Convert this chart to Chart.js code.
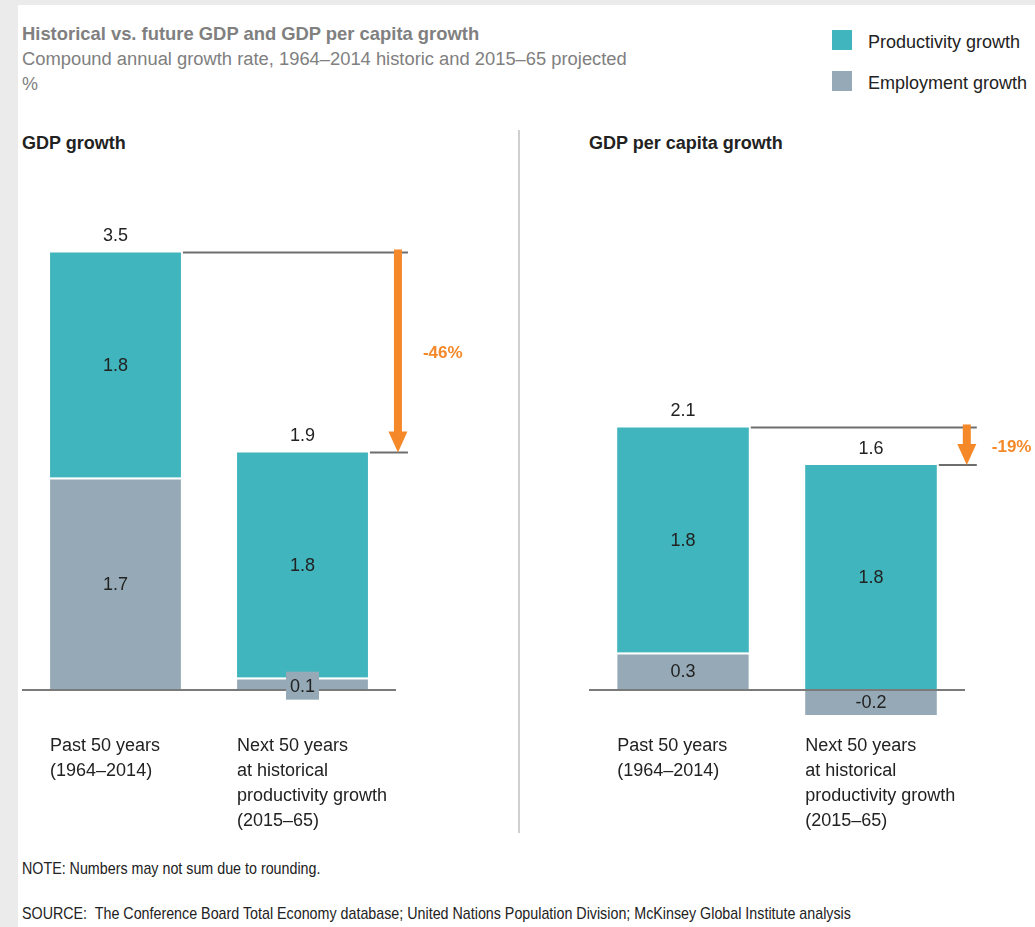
<!DOCTYPE html>
<html>
<head>
<meta charset="utf-8">
<script src="https://cdn.jsdelivr.net/npm/chart.js@4/dist/chart.umd.min.js"></script>
<style>
  body { margin: 0; background: #ebebeb; font-family: "Liberation Sans", Arial, sans-serif; }
  #page { position: absolute; left: 18px; top: 5px; width: 1017px; height: 922px; background: #fff; }
  .t { position: absolute; white-space: nowrap; font-size: 18px; line-height: 25px; color: #222; }
  .sw { position: absolute; width: 20px; height: 20px; }
  .narrow { transform: scaleX(0.84); transform-origin: left center; font-size: 17px; }
  canvas { position: absolute; }
</style>
</head>
<body>
<div id="page"></div>
<div class="t" style="left:22px;top:21px;font-weight:bold;color:#808080;font-size:18.4px">Historical vs. future GDP and GDP per capita growth</div>
<div class="t" style="left:22px;top:46px;color:#808080;font-size:18.35px">Compound annual growth rate, 1964–2014 historic and 2015–65 projected</div>
<div class="t" style="left:22px;top:72px;color:#808080">%</div>

<div class="sw" style="left:832px;top:30px;background:#40b5bd"></div>
<div class="t" style="left:868px;top:30px">Productivity growth</div>
<div class="sw" style="left:832px;top:71px;background:#95aab6"></div>
<div class="t" style="left:868px;top:71px">Employment growth</div>

<div class="t" style="left:22px;top:131px;font-weight:bold">GDP growth</div>
<div class="t" style="left:589px;top:131px;font-weight:bold">GDP per capita growth</div>

<div style="position:absolute;left:518px;top:130px;width:2px;height:703px;background:#d0d0d0"></div>

<canvas id="gdpChart" width="500" height="650" style="left:18px;top:200px"></canvas>
<canvas id="perCapitaChart" width="515" height="650" style="left:520px;top:200px"></canvas>

<div class="t narrow" style="left:22px;top:856px">NOTE: Numbers may not sum due to rounding.</div>
<div class="t narrow" style="left:22px;top:901px">SOURCE:&nbsp; The Conference Board Total Economy database; United Nations Population Division; McKinsey Global Institute analysis</div>

<script>
// Chart data
const categories = [
    ["Past 50 years", "(1964–2014)"],
    ["Next 50 years", "at historical", "productivity growth", "(2015–65)"]
];
const gdpEmployment = [1.7, 0.1];
const gdpProductivity = [1.8, 1.8];
const gdpTotals = [3.5, 1.9];
const perCapitaEmployment = [0.3, -0.2];
const perCapitaProductivity = [1.8, 1.8];
const perCapitaTotals = [2.1, 1.6];
const changeLabels = ["-46%", "-19%"];

const TEAL = "#40b5bd";
const GREY = "#95aab6";
const ORANGE = "#f5892a";

// Draws baseline, value labels, totals, change arrow and category labels
const annotate = {
    id: "annotate",
    afterDatasetsDraw(chart, args, opts) {
        const ctx = chart.ctx;
        const area = chart.chartArea;
        const zero = chart.scales.y.getPixelForValue(0);
        ctx.save();

        // baseline
        ctx.strokeStyle = "#7a7a7a";
        ctx.lineWidth = 2;
        ctx.beginPath();
        ctx.moveTo(area.left, zero);
        ctx.lineTo(area.right, zero);
        ctx.stroke();

        // segment labels
        ctx.font = "18px 'Liberation Sans', Arial, sans-serif";
        ctx.textAlign = "center";
        ctx.textBaseline = "middle";
        chart.data.datasets.forEach((ds, di) => {
            const meta = chart.getDatasetMeta(di);
            meta.data.forEach((bar, i) => {
                const txt = ds.data[i].toFixed(1);
                let cy = (bar.y + bar.base) / 2;
                if (Math.abs(bar.base - bar.y) < 20) {
                    cy += 2;
                    const w = ctx.measureText(txt).width + 8;
                    ctx.fillStyle = GREY;
                    ctx.fillRect(bar.x - w / 2, cy - 14, w, 28);
                }
                ctx.fillStyle = "#222";
                ctx.fillText(txt, bar.x, cy + 1);
            });
        });

        // totals above bars
        const top = chart.getDatasetMeta(1).data;
        opts.totals.forEach((t, i) => {
            ctx.fillStyle = "#222";
            ctx.fillText(t.toFixed(1), top[i].x, top[i].y - 16);
        });

        // connector lines and arrow
        const a = top[0], b = top[1];
        const arrowX = b.x + b.width / 2 + 30;
        ctx.strokeStyle = "#6e6e6e";
        ctx.lineWidth = 2;
        ctx.beginPath();
        ctx.moveTo(a.x + a.width / 2 + 2, a.y);
        ctx.lineTo(arrowX + 10, a.y);
        ctx.moveTo(b.x + b.width / 2 + 2, b.y);
        ctx.lineTo(arrowX + 10, b.y);
        ctx.stroke();

        const headLen = 21;
        ctx.fillStyle = ORANGE;
        ctx.fillRect(arrowX - 4, a.y - 3, 8, b.y - headLen - a.y + 4);
        ctx.beginPath();
        ctx.moveTo(arrowX - 9.5, b.y - headLen);
        ctx.lineTo(arrowX + 9.5, b.y - headLen);
        ctx.lineTo(arrowX, b.y);
        ctx.closePath();
        ctx.fill();

        ctx.font = "bold 17px 'Liberation Sans', Arial, sans-serif";
        ctx.textAlign = "left";
        ctx.fillText(opts.change, arrowX + 25, (a.y + b.y) / 2 + 1);

        // category labels, left aligned with each bar
        ctx.font = "18px 'Liberation Sans', Arial, sans-serif";
        ctx.fillStyle = "#222";
        categories.forEach((lines, i) => {
            const bar = top[i];
            lines.forEach((line, li) => {
                ctx.fillText(line, bar.x - bar.width / 2, zero + 56 + li * 25);
            });
        });
        ctx.restore();
    }
};

function makeChart(id, employment, productivity, totals, change, padLeft, padRight) {
    return new Chart(document.getElementById(id), {
        type: "bar",
        data: {
            labels: categories.map(c => c.join(" ")),
            datasets: [
                {
                    label: "Employment growth",
                    data: employment,
                    backgroundColor: GREY,
                    borderColor: "#fff",
                    borderWidth: { top: 2 },
                    borderSkipped: "start"
                },
                {
                    label: "Productivity growth",
                    data: productivity,
                    backgroundColor: TEAL,
                    borderWidth: 0
                }
            ]
        },
        options: {
            responsive: false,
            animation: false,
            devicePixelRatio: 1,
            layout: { padding: { left: padLeft, right: padRight, top: 15, bottom: 97.6 } },
            datasets: { bar: { barPercentage: 0.7, categoryPercentage: 1 } },
            scales: {
                x: { stacked: true, display: false },
                y: { stacked: true, display: false, min: -0.5, max: 3.8 }
            },
            plugins: {
                legend: { display: false },
                tooltip: { enabled: false },
                annotate: { totals: totals, change: change }
            }
        },
        plugins: [annotate]
    });
}

makeChart("gdpChart", gdpEmployment, gdpProductivity, gdpTotals, changeLabels[0], 4, 122);
makeChart("perCapitaChart", perCapitaEmployment, perCapitaProductivity, perCapitaTotals, changeLabels[1], 69, 70);
</script>
</body>
</html>
